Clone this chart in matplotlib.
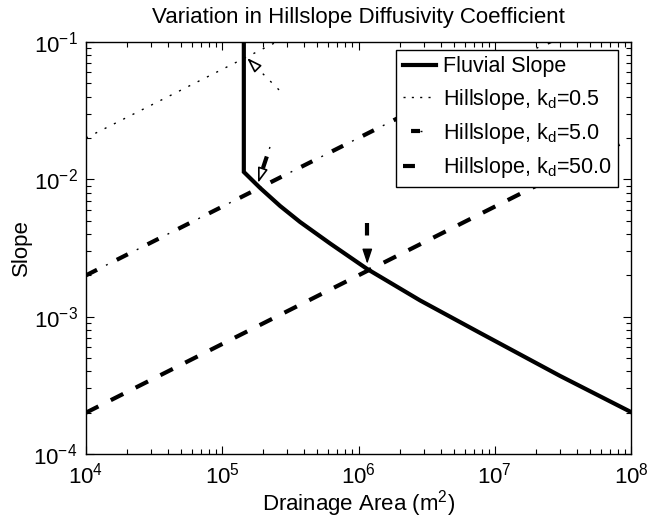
import numpy as np
import matplotlib.pyplot as plt
from matplotlib.lines import Line2D
from matplotlib.legend_handler import HandlerTuple

plt.rcParams['font.family'] = ['Liberation Sans', 'DejaVu Sans']
plt.rcParams['mathtext.default'] = 'regular'
plt.rcParams['lines.scale_dashes'] = False

# fluvial slope profile
fluvial_area = [1.44e5, 1.44e5, 1.895e5, 2.657e5, 3.725e5, 6.19e5, 1.157e6,
                2.835e6, 7.81e6, 3.02e7, 1.0e8]
fluvial_slope = [1.0e-1, 1.132e-2, 8.66e-3, 6.40e-3, 4.89e-3, 3.41e-3, 2.225e-3,
                 1.312e-3, 7.61e-4, 3.70e-4, 2.02e-4]

# hillslope lines (straight in log-log), one per diffusivity
hill_area = [1.0e4, 1.0e8]
hill_kd05 = [2.0e-2, 2.0]
hill_kd5 = [2.0e-3, 2.0e-1]
hill_kd50 = [2.0e-4, 2.0e-2]

# arrows pointing at the hillslope / fluvial crossovers: (area, slope)
arrow_tail = [(2.61e5, 4.48e-2), (2.24e5, 1.72e-2), (1.16e6, 4.81e-3)]
arrow_tip = [(1.52e5, 7.66e-2), (1.83e5, 9.4e-3), (1.16e6, 2.42e-3)]

FS = 16

fig = plt.figure(figsize=(6.55, 5.19), dpi=100)
ax = fig.add_axes([86 / 655, 1 - 454 / 519, 545 / 655, 412 / 519])
ax.set_xscale('log')
ax.set_yscale('log')
ax.set_xlim(1e4, 1e8)
ax.set_ylim(1e-4, 1e-1)

DOT = (0, (1.5, 6.0))
DASHDOT_THICK = (0, (8.9, 15.9))
DASHDOT_THIN = (8.7, (1.4, 23.4))
DASHED = (0, (10, 10))

ax.plot(fluvial_area, fluvial_slope, color='k', lw=3, solid_joinstyle='miter')
ax.plot(hill_area, hill_kd05, color='k', lw=1.0, linestyle=DOT)
ax.plot(hill_area, hill_kd5, color='k', lw=3, linestyle=DASHDOT_THICK, dash_capstyle='butt')
ax.plot(hill_area, hill_kd5, color='k', lw=1.0, linestyle=DASHDOT_THIN)
ax.plot(hill_area, hill_kd50, color='k', lw=3, linestyle=DASHED, dash_capstyle='butt')


def head_base(tail, tip, length_px=12):
    # point on the shaft, length_px back from the tip (in display space)
    t0 = ax.transData.transform(tail)
    t1 = ax.transData.transform(tip)
    d = t0 - t1
    p = t1 + d / np.hypot(*d) * length_px
    return ax.transData.inverted().transform(p)


head_style = '-|>,head_length=0.9,head_width=0.3'

# dotted arrow
(tx, ty), (hx, hy) = arrow_tail[0], arrow_tip[0]
bx, by = head_base(arrow_tail[0], arrow_tip[0])
ax.plot([tx, bx], [ty, by], color='k', lw=1.0, linestyle=(0, (1.5, 6.0)))
ax.annotate('', xy=(hx, hy), xytext=(bx, by),
            arrowprops=dict(arrowstyle=head_style, mutation_scale=10, lw=1.2,
                            fc='white', ec='k', shrinkA=0, shrinkB=0))

# dash-dot arrow
(tx, ty), (hx, hy) = arrow_tail[1], arrow_tip[1]
bx, by = head_base(arrow_tail[1], arrow_tip[1])
ax.plot([tx, bx], [ty, by], color='k', lw=1.0, linestyle=(0, (1.4, 40)))
ax.plot([tx, bx], [ty, by], color='k', lw=3, linestyle=(17.6, (8.9, 15.9)),
        dash_capstyle='butt')
ax.annotate('', xy=(hx, hy), xytext=(bx, by),
            arrowprops=dict(arrowstyle=head_style, mutation_scale=10, lw=1.2,
                            fc='white', ec='k', shrinkA=0, shrinkB=0))

# dashed arrow
(tx, ty), (hx, hy) = arrow_tail[2], arrow_tip[2]
bx, by = head_base(arrow_tail[2], arrow_tip[2])
ax.plot([tx, bx], [ty, by], color='k', lw=3, linestyle=(0, (9, 12)),
        dash_capstyle='butt')
ax.annotate('', xy=(hx, hy), xytext=(bx, by),
            arrowprops=dict(arrowstyle=head_style, mutation_scale=10, lw=1,
                            fc='k', ec='k', shrinkA=0, shrinkB=0))

# legend entries
h_fluv = Line2D([], [], color='k', lw=3)
h_05 = Line2D([], [], color='k', lw=1.0, linestyle=(0, (1.5, 4.5)))
h_5 = (Line2D([], [], color='k', lw=3, linestyle=(19.2, (8.6, 16.4)), dash_capstyle='butt'),
       Line2D([], [], color='k', lw=1.0, linestyle=(0, (1.4, 21.6))))
h_50 = (Line2D([], [], color='k', lw=3, linestyle=(0, (8.6, 8.2)), dash_capstyle='butt'),
        Line2D([], [], color='k', lw=1.0, linestyle=(-12.6, (1.4, 40))))
leg = ax.legend([h_fluv, h_05, h_5, h_50],
                ['Fluvial Slope', 'Hillslope, $k_d$=0.5',
                 'Hillslope, $k_d$=5.0', 'Hillslope, $k_d$=50.0'],
                handler_map={tuple: HandlerTuple(ndivide=None, pad=0)},
                loc='upper right', bbox_to_anchor=(0.976, 0.981), borderaxespad=0,
                fontsize=15.5, handlelength=1.55, handletextpad=0.3,
                labelspacing=0.43, borderpad=0.3, fancybox=False,
                edgecolor='k', framealpha=1)
leg.get_frame().set_linewidth(1.0)

ax.tick_params(which='both', direction='in', top=True, right=True,
               labelsize=FS, width=0.8)
ax.tick_params(which='major', length=6, pad=6)
ax.tick_params(which='minor', length=3.5)
for s in ax.spines.values():
    s.set_linewidth(1.0)

ax.set_title('Variation in Hillslope Diffusivity Coefficient', fontsize=FS, pad=14)
ax.set_xlabel('Drainage Area (m$^2$)', fontsize=FS, labelpad=0)
ax.set_ylabel('Slope', fontsize=FS, labelpad=1)

fig.savefig('out.png', dpi=100)
